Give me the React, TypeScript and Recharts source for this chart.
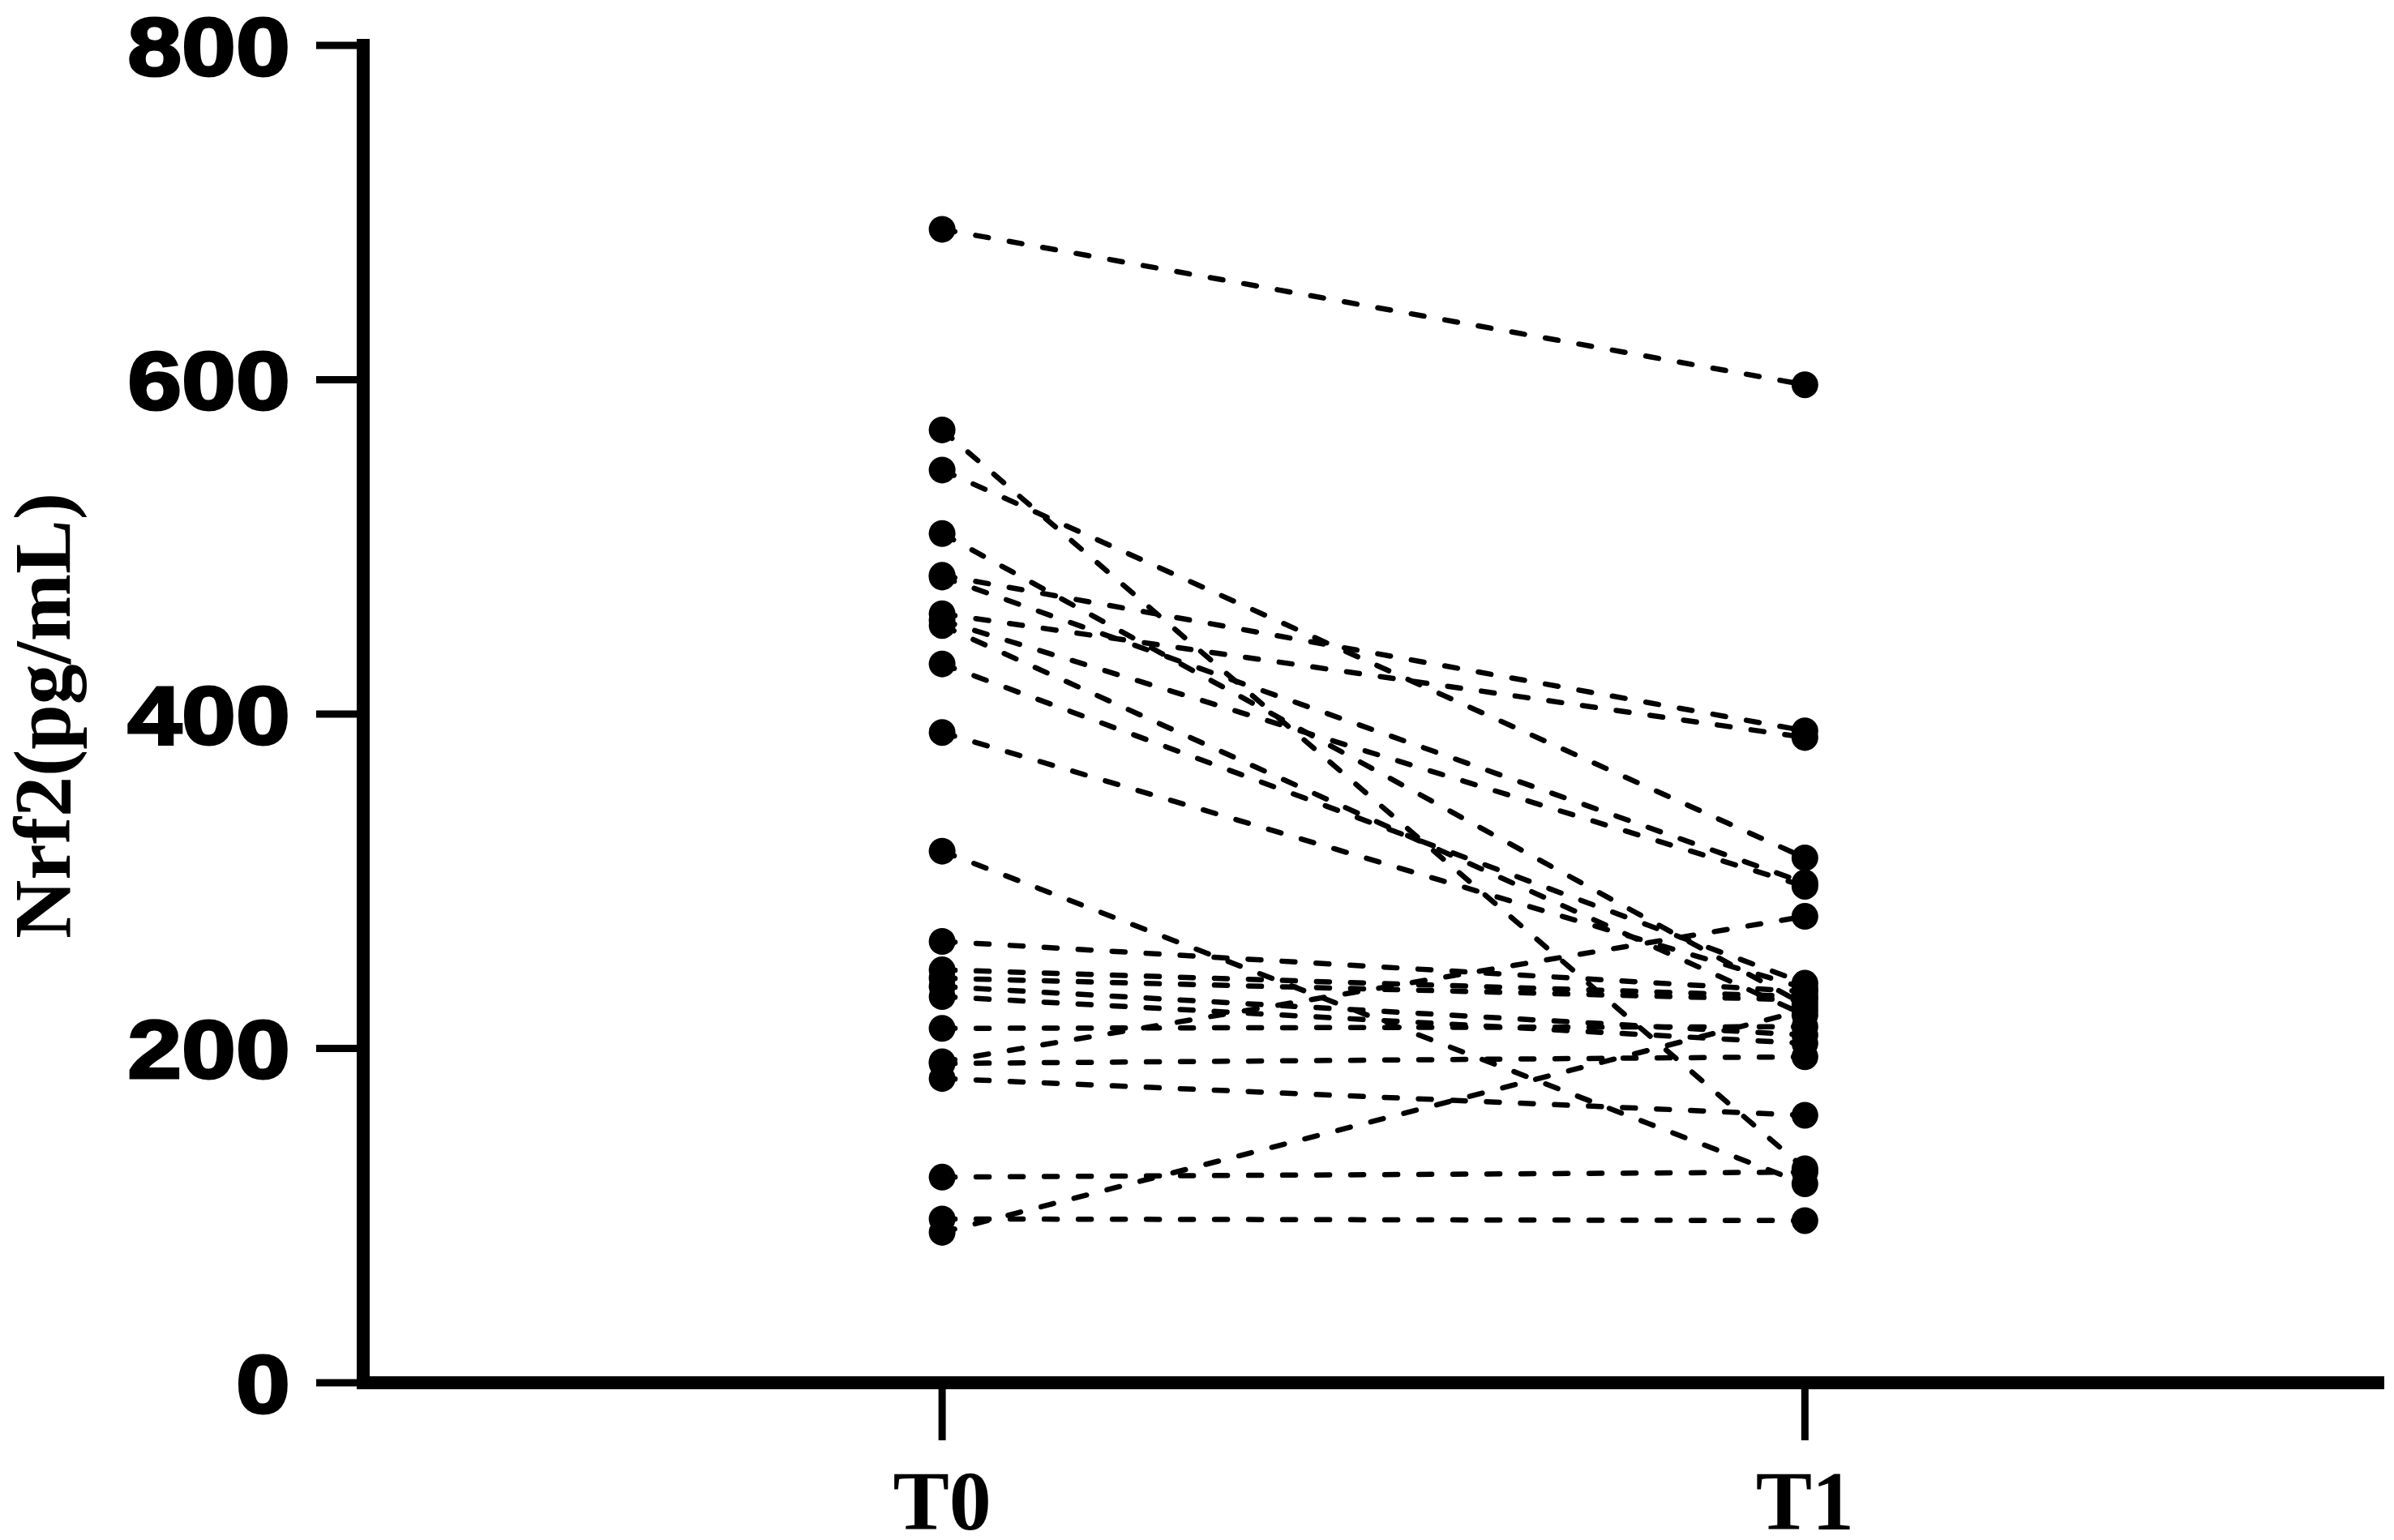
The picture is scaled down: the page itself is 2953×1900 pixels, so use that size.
import React from 'react';
import { LineChart, Line, XAxis, YAxis } from 'recharts';

// time points and tick labels
const timeLabels = ['T0', 'T1'];
const yTicks = [0, 200, 400, 600, 800];

// Nrf2 (pg/mL) per subject, paired T0 -> T1
const nrf2T0 = [690, 570, 546, 508, 483, 482, 460, 456, 453, 430, 389, 318, 264, 247, 242, 237, 231, 212, 192, 191, 182, 123, 98, 90];
const nrf2T1 = [597, 128, 314, 226, 390, 299, 386, 297, 220, 239, 236, 119, 234, 231, 229, 208, 203, 213, 279, 195, 160, 126, 97, 223];

const data = timeLabels.map((label, t) => {
  const row: Record<string, number | string> = { t, label };
  nrf2T0.forEach((v, i) => {
    row[`s${i}`] = t === 0 ? v : nrf2T1[i];
  });
  return row;
});

const YTick = ({ x, y, payload }: any) => (
  <text
    transform={`translate(${x},${y}) scale(1.18,1)`}
    textAnchor="end"
    dy="0.36em"
    fontFamily="'Liberation Sans', Arial, sans-serif"
    fontWeight="bold"
    fontSize={102}
    fill="#000"
    stroke="#000"
    strokeWidth={3}
  >
    {payload.value}
  </text>
);

const XTick = ({ x, y, payload }: any) => (
  <text
    x={x}
    y={y + 110}
    textAnchor="middle"
    fontFamily="'Liberation Serif', 'Times New Roman', serif"
    fontWeight="bold"
    fontSize={104}
    fill="#000"
  >
    {timeLabels[payload.value]}
  </text>
);

const YTitle = () => (
  <text
    transform="translate(86,883) rotate(-90)"
    textAnchor="middle"
    fontFamily="'Liberation Serif', 'Times New Roman', serif"
    fontWeight="bold"
    fontSize={100}
    fill="#000"
  >
    Nrf2(pg/mL)
  </text>
);

const App: React.FC = () => {
  return (
    <div style={{ position: 'absolute', left: 0, top: 0, width: 2953, height: 1900, background: '#fff' }}>
      <LineChart width={2953} height={1900} data={data} margin={{ top: 56, right: 20, bottom: 0, left: 0 }}>
        <XAxis
          type="number"
          dataKey="t"
          domain={[-0.671, 1.664]}
          ticks={[0, 1]}
          allowDataOverflow
          height={194}
          axisLine={{ stroke: '#000', strokeWidth: 16, strokeLinecap: 'square' }}
          tickLine={{ stroke: '#000', strokeWidth: 9 }}
          tickSize={71}
          tickMargin={0}
          tick={<XTick />}
        />
        <YAxis
          type="number"
          domain={[0, 800]}
          ticks={yTicks}
          width={448}
          axisLine={{ stroke: '#000', strokeWidth: 16, strokeLinecap: 'square' }}
          tickLine={{ stroke: '#000', strokeWidth: 9 }}
          tickSize={58}
          tickMargin={32}
          tick={<YTick />}
          label={<YTitle />}
        />
        {nrf2T0.map((_, i) => (
          <Line
            key={`s${i}`}
            type="linear"
            dataKey={`s${i}`}
            stroke="#000"
            strokeWidth={6.5}
            strokeDasharray="16 26"
            strokeLinecap="round"
            dot={{ r: 16.5, fill: '#000', stroke: 'none', strokeDasharray: 'none' }}
            activeDot={false}
            isAnimationActive={false}
          />
        ))}
      </LineChart>
    </div>
  );
};

export default App;
